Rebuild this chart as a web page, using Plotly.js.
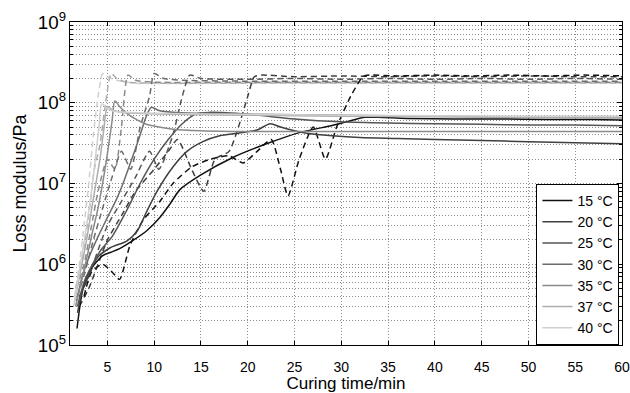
<!DOCTYPE html>
<html><head><meta charset="utf-8">
<script src="https://cdn.plot.ly/plotly-3.0.1.min.js"></script>
<style>html,body{margin:0;padding:0;background:#fff}#chart{width:630px;height:393px}</style>
</head><body><div id="chart"></div>
<script>
// Legend labels and line colours
const labels = ["15 °C","20 °C","25 °C","30 °C","35 °C","37 °C","40 °C"];
const colors = ["#111111","#3f3f3f","#555555","#6b6b6b","#8a8a8a","#adadad","#d0d0d0"];

// Solid curves (time in min, modulus in Pa)
const tS15 = [1.75,2.4,3.1,4.5,5.3,6.3,7.7,9.2,10.6,11.7,12.75,14.9,18.4,22,25.6,29.1,31,32.5,34,37,42,47,52,57,60];
const vS15 = [1.6e5,5.1e5,8.3e5,1.28e6,1.4e6,1.56e6,1.96e6,2.6e6,3.8e6,5.6e6,8.4e6,1.26e7,2.1e7,3.1e7,4.3e7,5.25e7,6e7,6.6e7,6.6e7,6.4e7,6.3e7,6.3e7,6.2e7,6.2e7,6.1e7];
const tS20 = [1.8,2.4,3.1,3.9,5.3,7.1,8.2,9.2,10.3,12,13.5,15.2,17,19,21,22.4,23.5,25,26.3,29,32,36,40,45,50,55,60];
const vS20 = [2.5e5,5e5,7.6e5,1.2e6,1.6e6,1.95e6,2.6e6,4.5e6,8e6,1.6e7,2.5e7,3.3e7,3.9e7,4.2e7,4.6e7,5.5e7,5e7,4.5e7,4.2e7,3.9e7,3.7e7,3.6e7,3.5e7,3.4e7,3.3e7,3.2e7,3.1e7];
const tS25 = [1.8,2.5,3.2,4.3,5.5,7,8.5,10,11.5,13,14.5,16,20,25,30,35,40,45,50,55,60];
const vS25 = [3e5,6e5,9e5,1.5e6,2.2e6,4.5e6,1e7,2e7,3.5e7,5.5e7,7.3e7,7.6e7,7.2e7,6.3e7,5.8e7,5.6e7,5.5e7,5.4e7,5.3e7,5.3e7,5.2e7];
const tS30 = [1.7,2.3,3,4,5,6,6.8,7.6,8.5,9.2,9.7,10.5,12,15,20,30,40,50,60];
const vS30 = [3.5e5,7e5,1.2e6,2.2e6,3.8e6,6.5e6,1.1e7,2e7,4e7,7e7,8.8e7,8e7,7.6e7,7.4e7,7.2e7,7e7,6.8e7,6.6e7,6.5e7];
const tS35 = [1.6,2.2,2.8,3.4,4,4.6,5.1,5.5,5.8,6.3,7,8,9,10.5,12,15,20,30,40,50,60];
const vS35 = [3e5,6e5,1.2e6,2.5e6,5e6,1.2e7,2.8e7,6e7,1.05e8,9e7,7.5e7,6.3e7,5.5e7,5e7,4.7e7,4.5e7,4.4e7,4.4e7,4.4e7,4.4e7,4.4e7];
const tS37 = [1.5,2.1,2.7,3.2,3.7,4.2,4.6,5,5.5,6.5,8,12,20,30,40,50,60];
const vS37 = [3.5e5,8e5,1.8e6,4e6,9e6,2e7,4.5e7,9e7,8.2e7,7.6e7,7.4e7,7.2e7,7e7,6.8e7,6.7e7,6.6e7,6.5e7];
const tS40 = [1.4,1.9,2.4,2.9,3.3,3.7,4.1,4.4,4.9,5.6,7,10,20,30,40,50,60];
const vS40 = [3e5,7e5,1.6e6,3.8e6,8e6,2e7,5e7,9.7e7,8.5e7,7.9e7,7.6e7,7.4e7,7.2e7,7e7,6.9e7,6.8e7,6.8e7];

// Dashed curves
const tD15 = [2.5,3.3,4.5,5.5,6.3,7.4,8.8,10.6,12,14,16,18,19.5,21,22.5,23.5,24.3,25.5,27,28.3,29.5,31,32.3,33,36,40,44,48,52,56,60];
const vD15 = [4e5,8e5,1e6,8e5,6.5e5,1.7e6,3.5e6,6e6,1e7,1.6e7,2e7,2.2e7,1.8e7,2.5e7,3.5e7,1.5e7,7e6,2e7,5e7,2e7,5e7,1.2e8,2.1e8,2.2e8,2.15e8,2.2e8,2.15e8,2.2e8,2.15e8,2.2e8,2.15e8];
const tD20 = [2,3,4,5,6.5,8,10,11.5,12.5,14,15.3,16.5,18,19,20,20.7,21.5,25,30,35,40,45,50,55,60];
const vD20 = [3e5,5e5,1e6,2e6,4e6,8e6,1.5e7,2.5e7,3.5e7,1.5e7,8e6,2e7,2.5e7,5e7,1.2e8,2.1e8,2.2e8,2.1e8,2.15e8,2.1e8,2.15e8,2.1e8,2.15e8,2.1e8,2.1e8];
const tD25 = [2,3,4,5,6.5,8,9.5,10.5,12,13,13.8,15,20,25,30,35,40,45,50,55,60];
const vD25 = [4e5,7e5,1.5e6,3e6,6e6,1.2e7,2.5e7,1.5e7,4e7,1.2e8,2.2e8,2e8,1.95e8,2e8,1.95e8,2e8,1.95e8,2e8,1.95e8,2e8,1.95e8];
const tD30 = [1.8,2.6,3.5,4.5,5.5,6.5,7.5,8.5,9.5,10,11,13,20,30,40,50,60];
const vD30 = [4e5,8e5,2e6,5e6,1.2e7,2.5e7,1.5e7,5e7,1.2e8,2.3e8,2e8,1.9e8,1.85e8,1.85e8,1.85e8,1.85e8,1.85e8];
const tD35 = [1.7,2.5,3.3,4,5,5.8,6.5,7.2,8,10,20,30,40,50,60];
const vD35 = [5e5,1e6,3e6,8e6,2e7,1.5e7,5e7,2.2e8,1.9e8,1.8e8,1.8e8,1.8e8,1.8e8,1.8e8,1.8e8];
const tD37 = [1.6,2.3,3,3.6,4.2,4.8,5.4,6,7,10,20,30,40,50,60];
const vD37 = [5e5,1.2e6,4e6,1.5e7,3e7,1e8,2.3e8,2e8,1.8e8,1.75e8,1.75e8,1.75e8,1.75e8,1.75e8,1.75e8];
const tD40 = [1.5,2,2.5,3,3.5,4,4.5,5,6,8,20,30,40,50,60];
const vD40 = [4e5,1e6,3e6,1e7,4e7,1.2e8,2.3e8,2.1e8,1.9e8,1.75e8,1.75e8,1.75e8,1.75e8,1.75e8,1.75e8];

const solidT = [tS15,tS20,tS25,tS30,tS35,tS37,tS40];
const solidV = [vS15,vS20,vS25,vS30,vS35,vS37,vS40];
const dashT = [tD15,tD20,tD25,tD30,tD35,tD37,tD40];
const dashV = [vD15,vD20,vD25,vD30,vD35,vD37,vD40];

const traces = [];
for (let i = labels.length - 1; i >= 0; i--) {
  traces.push({x: dashT[i], y: dashV[i], type: 'scatter', mode: 'lines', showlegend: false,
    line: {color: colors[i], width: 1.5, dash: '6px,4px', shape: 'spline', smoothing: 0.6}, hoverinfo: 'skip'});
}
for (let i = 0; i < labels.length; i++) {
  traces.push({x: solidT[i], y: solidV[i], type: 'scatter', mode: 'lines', name: labels[i],
    line: {color: colors[i], width: 1.5, shape: 'spline', smoothing: 0.8}});
}
// empty trace so the label-only x axis exists
traces.push({x: [], y: [], xaxis: 'x2', yaxis: 'y', type: 'scatter', mode: 'lines', showlegend: false, hoverinfo: 'skip'});

const gridc = '#8c8c8c';
const gdash = '1px,2px';
const layout = {
  width: 630, height: 393,
  margin: {l: 70, r: 8, t: 22, b: 48},
  paper_bgcolor: '#fff', plot_bgcolor: '#fff',
  font: {family: 'Liberation Sans, Arial, sans-serif', size: 14, color: '#000'},
  showlegend: true,
  legend: {x: 0.845, y: 0.0, xanchor: 'left', yanchor: 'bottom', bgcolor: '#fff',
    bordercolor: '#000', borderwidth: 1, font: {size: 14}, traceorder: 'normal', tracegroupgap: 0},
  xaxis: {range: [1, 60], tick0: 0, dtick: 5, ticks: 'inside', ticklen: 4, tickcolor: '#000',
    showline: true, linecolor: '#000', linewidth: 1, mirror: 'ticks', zeroline: false,
    showgrid: true, gridcolor: gridc, griddash: gdash, gridwidth: 1, showticklabels: false,
    title: {text: ''}},
  xaxis2: {overlaying: 'x', matches: 'x', anchor: 'y', side: 'bottom', range: [1, 60], tick0: 0, dtick: 5,
    ticks: 'outside', ticklen: 9, tickcolor: 'rgba(0,0,0,0)', showline: false, showgrid: false, zeroline: false,
    tickfont: {size: 14}, title: {text: 'Curing time/min', font: {size: 17}, standoff: 4}},
  yaxis: {type: 'log', range: [5, 9], dtick: 1, exponentformat: 'power', ticks: 'inside', ticklen: 5, tickcolor: '#000',
    showline: true, linecolor: '#000', linewidth: 1, mirror: 'ticks', zeroline: false,
    showgrid: true, gridcolor: gridc, griddash: gdash, gridwidth: 1,
    minor: {dtick: 'D1', showgrid: true, gridcolor: gridc, griddash: gdash, ticks: 'inside', ticklen: 3, tickcolor: '#000'},
    title: {text: 'Loss modulus/Pa', font: {size: 18}, standoff: 6}, tickfont: {size: 15}}
};
Plotly.newPlot('chart', traces, layout, {displayModeBar: false, staticPlot: true});
</script></body></html>
